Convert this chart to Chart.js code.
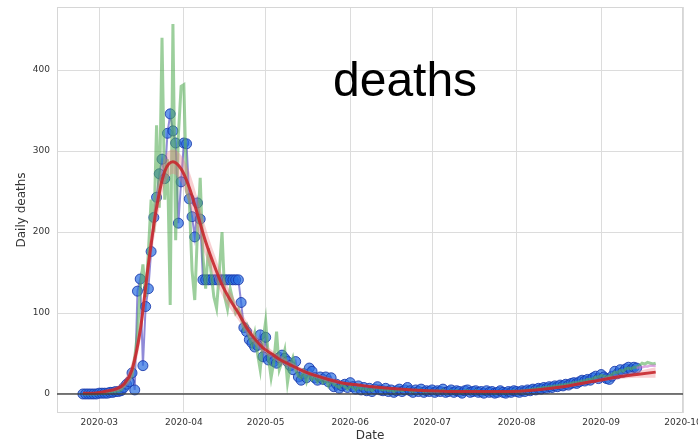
<!DOCTYPE html>
<html>
<head>
<meta charset="utf-8">
<script src="https://cdn.jsdelivr.net/npm/chart.js@4.4.0/dist/chart.umd.min.js"></script>
<style>
  html, body { margin: 0; padding: 0; background: #fff; }
  #wrap { width: 698px; height: 445px; }
</style>
</head>
<body>
<div id="wrap"><canvas id="myChart" width="698" height="445"></canvas></div>
<script>
// days counted from 2020-03-01 (day 0)
var monthDays = [0, 31, 61, 92, 122, 153, 184, 214];
var monthLabels = ['2020-03', '2020-04', '2020-05', '2020-06', '2020-07', '2020-08', '2020-09', '2020-10'];
var yTicks = [0, 100, 200, 300, 400];

// reported daily deaths (blue points), one per day from day -6
var blueStart = -6;
var blueValues = [
  0, 0, 0, 0, 0, 0, 1, 1, 1, 1, 2, 2, 3, 3, 4,
  8, 12, 15, 26, 5, 127, 142, 35, 108, 130,
  176, 218, 243, 272, 290, 266, 322, 346, 325, 310,
  211, 262, 310, 309, 241, 219, 194, 236, 216,
  141, 141, 141, 141, 141, 141, 141, 141, 141, 141, 141, 141, 141, 141,
  113, 82, 77, 67, 63, 58, 60, 73, 46, 70, 42, 44, 40, 38, 45, 48, 44, 40, 35, 30,
  40, 21, 17, 25, 20, 32, 28, 20, 17, 21, 18, 21, 15, 20, 9, 12, 7, 10, 12, 8, 14,
  9, 6, 10, 5, 8, 4, 7, 3, 6, 9,
  5, 4, 7, 3, 5, 2, 4, 6, 3, 5,
  8, 4, 2, 5, 3, 6, 2, 4, 3, 5,
  2, 4, 3, 6, 2, 3, 5, 2, 4, 3,
  1, 4, 5, 2, 3, 4, 2, 3, 1, 4,
  2, 3, 1, 2, 4, 2, 1, 3, 2, 4,
  3, 2, 4, 3, 5, 4, 6, 5,
  7, 6, 8, 7, 9, 8, 10, 9, 11, 10,
  12, 11, 13, 14, 13, 15, 17, 16, 18, 17,
  20, 22, 19, 24, 21, 19, 18, 22, 28, 25,
  30, 27, 31, 33, 30, 33, 32
];

// second source (green line), one per day from day -6
var greenStart = -6;
var greenValues = [
  0, 0, 0, 0, 0, 0, 1, 1, 1, 2, 2, 3, 3, 4, 5,
  10, 14, 18, 22, 45, 75, 130, 160, 120, 175,
  240, 200, 332, 230, 440, 240, 290, 110, 457, 190,
  320, 380, 382, 250, 240, 153, 116, 200, 267, 170,
  130, 180, 150, 120, 106, 150, 200, 120, 105, 130,
  115, 100, 105, 95,
  80, 85, 70, 60, 75, 50, 30, 65, 90, 45,
  20, 40, 77, 30, 40, 54, 14, 35, 45, 30,
  22, 20, 28, 15, 25, 18, 22, 15, 20, 14,
  18, 10, 16, 12, 10, 8, 12, 9, 6, 10,
  8, 5, 9, 6, 7, 5, 6, 4, 7, 8,
  6, 5, 6, 4, 5, 3, 5, 5, 4, 5,
  6, 4, 3, 5, 4, 5, 3, 4, 3, 4,
  3, 4, 3, 5, 3, 3, 4, 3, 4, 3,
  2, 4, 4, 3, 3, 4, 3, 3, 2, 3,
  3, 3, 2, 3, 3, 2, 2, 3, 3, 4,
  3, 3, 4, 4, 5, 5, 6, 6, 7, 7,
  8, 8, 9, 9, 10, 10, 11, 11, 12, 12,
  13, 14, 14, 15, 16, 16, 18, 18, 19, 21,
  21, 23, 22, 21, 22, 24, 27, 26, 29, 28,
  31, 32, 31, 33, 33,
  35, 38, 37, 39, 38, 37, 38
];

// fitted curve (red) with its band
var fitDays = [-6, -2, 2, 6, 9, 12, 15, 18, 21, 24, 27, 30, 33, 36, 39, 42, 45, 48, 51, 54, 57, 60, 63, 66, 70, 75, 80, 85, 90, 95, 100, 110, 120, 130, 140, 150, 160, 170, 180, 190, 197, 204];
var fitValues = [1, 1, 3, 6, 12, 30, 78, 160, 230, 275, 287, 278, 255, 222, 188, 160, 135, 116, 100, 82, 68, 57, 50, 43, 36, 28, 22, 17, 13, 11, 9, 6, 4, 3, 3, 3, 5, 9, 15, 21, 24, 27];
var fitHigh = [2, 2, 5, 9, 17, 40, 92, 178, 250, 292, 302, 295, 275, 242, 206, 175, 148, 127, 109, 90, 75, 63, 55, 48, 40, 31, 25, 20, 15, 13, 11, 7, 5, 4, 4, 4, 6, 11, 17, 24, 28, 33];
var fitLow = [0, 0, 1, 3, 7, 20, 64, 142, 210, 258, 272, 261, 235, 202, 170, 145, 122, 105, 91, 74, 61, 51, 45, 38, 32, 25, 19, 14, 11, 9, 7, 5, 3, 2, 2, 2, 4, 7, 13, 18, 20, 20];

// short purple tail at the end
var tailDays = [197, 198, 199, 200, 201, 202, 203, 204];
var tailValues = [32, 33, 33, 34, 34, 35, 35, 35];

function daily(start, vals) {
  return vals.map(function(v, i) { return {x: start + i, y: v}; });
}
function pairs(days, vals) {
  return days.map(function(d, i) { return {x: d, y: vals[i]}; });
}

var tickFont = {family: 'DejaVu Sans', size: 9};
var labelFont = {family: 'DejaVu Sans', size: 12};

// frame, zero line and big text
var extras = {
  id: 'extras',
  beforeDatasetsDraw: function(chart) {
    var c = chart.ctx, a = chart.chartArea;
    c.save();
    c.strokeStyle = '#d6d6d6';
    c.lineWidth = 1;
    c.strokeRect(a.left + 0.5, a.top + 0.5, a.right - a.left - 1, a.bottom - a.top - 1);
    c.restore();
  },
  afterDatasetsDraw: function(chart) {
    var c = chart.ctx, a = chart.chartArea;
    var y0 = chart.scales.y.getPixelForValue(0);
    c.save();
    c.strokeStyle = 'rgba(60,60,60,0.9)';
    c.lineWidth = 1.5;
    c.beginPath();
    c.moveTo(a.left, y0);
    c.lineTo(a.right, y0);
    c.stroke();
    c.fillStyle = '#000';
    c.font = '48px "Liberation Sans", Arial, sans-serif';
    c.textBaseline = 'alphabetic';
    c.fillText('deaths', 333, 96);
    c.restore();
  }
};

var ctx = document.getElementById('myChart').getContext('2d');

var config = {
  type: 'scatter',
  data: {
    datasets: [{
      label: 'fit',
      data: pairs(fitDays, fitValues),
      showLine: true,
      borderColor: 'rgba(200,40,45,0.9)',
      borderWidth: 3,
      pointRadius: 0,
      cubicInterpolationMode: 'monotone'
    }, {
      label: 'fit high',
      data: pairs(fitDays, fitHigh),
      showLine: true,
      borderWidth: 0,
      borderColor: 'rgba(0,0,0,0)',
      backgroundColor: 'rgba(235,120,125,0.35)',
      fill: '+1',
      pointRadius: 0,
      cubicInterpolationMode: 'monotone'
    }, {
      label: 'fit low',
      data: pairs(fitDays, fitLow),
      showLine: true,
      borderWidth: 0,
      borderColor: 'rgba(0,0,0,0)',
      pointRadius: 0,
      cubicInterpolationMode: 'monotone'
    }, {
      label: 'tail',
      data: pairs(tailDays, tailValues),
      showLine: true,
      borderColor: 'rgba(200,110,210,0.6)',
      borderWidth: 2.5,
      pointRadius: 0
    }, {
      label: 'green',
      data: daily(greenStart, greenValues),
      showLine: true,
      borderColor: 'rgba(90,175,90,0.6)',
      borderWidth: 3,
      pointRadius: 0
    }, {
      label: 'deaths',
      data: daily(blueStart, blueValues),
      showLine: true,
      borderColor: 'rgba(70,60,190,0.6)',
      borderWidth: 2,
      pointRadius: 5,
      pointBackgroundColor: 'rgba(40,110,225,0.7)',
      pointBorderColor: 'rgba(25,55,170,0.85)',
      pointBorderWidth: 1
    }]
  },
  options: {
    responsive: false,
    animation: false,
    layout: {padding: {left: 0, right: 15, top: 7, bottom: 0}},
    plugins: {
      legend: {display: false},
      tooltip: {enabled: false}
    },
    scales: {
      x: {
        type: 'linear',
        min: -15.5,
        max: 214,
        afterBuildTicks: function(s) {
          s.ticks = monthDays.map(function(d) { return {value: d}; });
        },
        afterFit: function(s) {
          s.height = 32;
          s.paddingLeft = 0;
          s.paddingRight = 0;
        },
        ticks: {
          font: tickFont,
          color: '#333',
          padding: 4,
          maxRotation: 0,
          autoSkip: false,
          callback: function(v) {
            var i = monthDays.indexOf(v);
            return i >= 0 ? monthLabels[i] : '';
          }
        },
        grid: {color: '#dcdcdc', drawTicks: false},
        border: {display: false},
        title: {display: true, text: 'Date', font: labelFont, color: '#333', padding: {top: 0, bottom: 2}}
      },
      y: {
        min: -23.5,
        max: 478,
        afterBuildTicks: function(s) {
          s.ticks = yTicks.map(function(v) { return {value: v}; });
        },
        afterFit: function(s) {
          s.width = 57;
          s.paddingTop = 0;
          s.paddingBottom = 0;
        },
        ticks: {font: tickFont, color: '#333', padding: 7},
        grid: {color: '#dcdcdc', drawTicks: false},
        border: {display: false},
        title: {display: true, text: 'Daily deaths', font: labelFont, color: '#333', padding: {top: 15, bottom: 0}}
      }
    }
  },
  plugins: [extras]
};

var chart = new Chart(ctx, config);
</script>
</body>
</html>
